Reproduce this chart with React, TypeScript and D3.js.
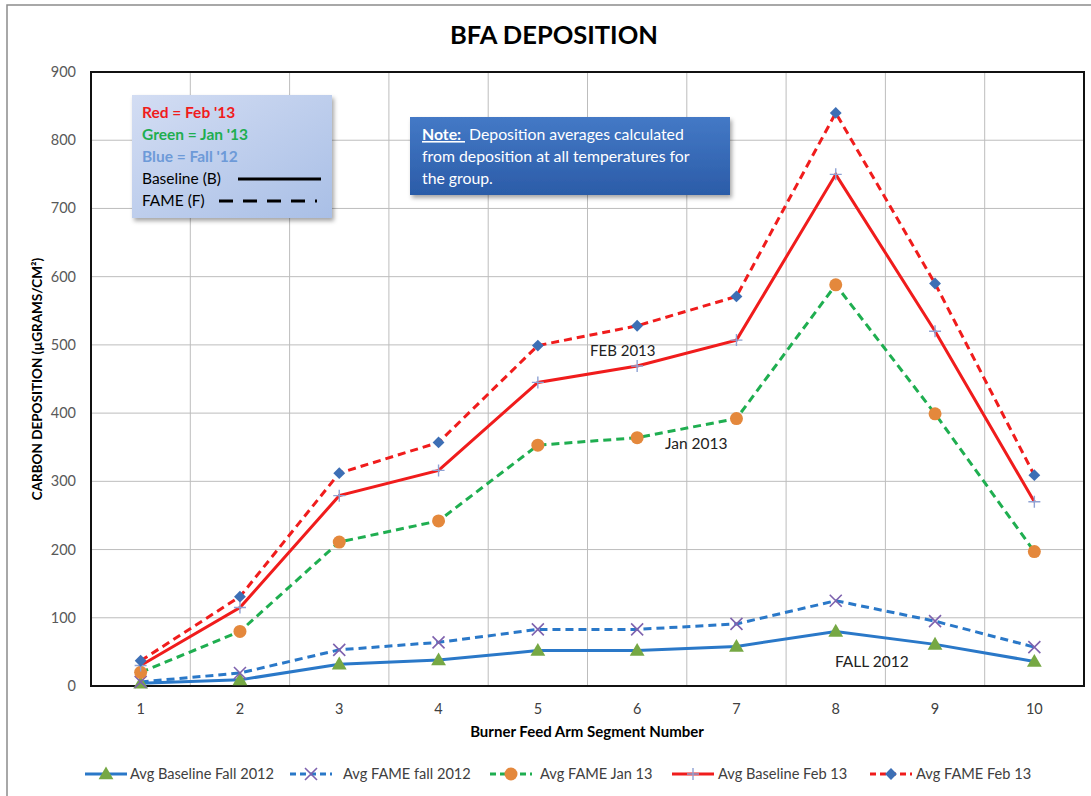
import React from "react";
import * as d3 from "d3";

const categories = [1, 2, 3, 4, 5, 6, 7, 8, 9, 10];
const baselineFall2012 = [4, 9, 32, 38, 52, 52, 58, 80, 61, 36];
const fameFall2012 = [6, 19, 53, 64, 83, 83, 91, 125, 95, 57];
const fameJan13 = [20, 80, 211, 242, 353, 364, 392, 588, 399, 197];
const baselineFeb13 = [30, 115, 279, 316, 445, 469, 507, 750, 520, 270];
const fameFeb13 = [37, 131, 312, 357, 499, 528, 571, 840, 590, 309];
const yTicks = [0, 100, 200, 300, 400, 500, 600, 700, 800, 900];

const W = 1091, H = 796;
const L = 91, R = 1084, T = 72, B = 686;
const FONT = "Lato, 'Open Sans', sans-serif";

type Marker = "triangle" | "x" | "circle" | "plus" | "diamond";
interface Series { name: string; values: number[]; color: string; dash: string | null; marker: Marker; mcolor: string; }

const series: Series[] = [
  { name: "Avg Baseline Fall 2012", values: baselineFall2012, color: "#2a78c8", dash: null, marker: "triangle", mcolor: "#76a844" },
  { name: "Avg FAME fall 2012", values: fameFall2012, color: "#2a78c8", dash: "8,5", marker: "x", mcolor: "#7e62ae" },
  { name: "Avg FAME Jan 13", values: fameJan13, color: "#1fae50", dash: "8,5", marker: "circle", mcolor: "#e4883c" },
  { name: "Avg Baseline Feb 13", values: baselineFeb13, color: "#f01c1c", dash: null, marker: "plus", mcolor: "#8fa2d4" },
  { name: "Avg FAME Feb 13", values: fameFeb13, color: "#f01c1c", dash: "8,5", marker: "diamond", mcolor: "#3d6fb5" },
];

function MarkerShape({ type, x, y, color }: { type: Marker; x: number; y: number; color: string }) {
  if (type === "triangle") {
    const p = d3.symbol(d3.symbolTriangle, 95)();
    return <path d={p || ""} transform={`translate(${x},${y + 1})`} fill={color} />;
  }
  if (type === "circle") return <circle cx={x} cy={y} r={6.5} fill={color} />;
  if (type === "diamond") {
    const p = d3.symbol(d3.symbolSquare, 70)();
    return <path d={p || ""} transform={`translate(${x},${y}) rotate(45)`} fill={color} />;
  }
  if (type === "x") {
    const s = 6;
    return <path d={`M${x - s},${y - s}L${x + s},${y + s}M${x - s},${y + s}L${x + s},${y - s}`} stroke={color} strokeWidth={1.6} />;
  }
  const s = 6;
  return <path d={`M${x - s},${y}L${x + s},${y}M${x},${y - s}L${x},${y + s}`} stroke={color} strokeWidth={1.4} />;
}

export default function App() {
  const x = d3.scaleBand<number>().domain(categories).range([L, R]);
  const y = d3.scaleLinear().domain([0, 900]).range([B, T]);
  const cx = (c: number) => (x(c) || 0) + x.bandwidth() / 2;
  const line = d3.line<number>().x((_, i) => cx(categories[i])).y((v) => y(v));

  const legendItems = [
    { s: series[0], lx: 85, tx: 130 },
    { s: series[1], lx: 290, tx: 343 },
    { s: series[2], lx: 490, tx: 540 },
    { s: series[3], lx: 672, tx: 718 },
    { s: series[4], lx: 870, tx: 916 },
  ];

  return (
    <svg width={W} height={H} style={{ position: "absolute", left: 0, top: 0, background: "#fff" }} fontFamily={FONT}>
      <defs>
        <linearGradient id="lg1" x1="0" y1="0" x2="1" y2="1">
          <stop offset="0" stopColor="#d3ddf3" />
          <stop offset="1" stopColor="#a9bfe6" />
        </linearGradient>
        <linearGradient id="lg2" x1="0" y1="0" x2="0" y2="1">
          <stop offset="0" stopColor="#4479c6" />
          <stop offset="1" stopColor="#2b5ca8" />
        </linearGradient>
        <filter id="sh" x="-10%" y="-10%" width="130%" height="140%">
          <feDropShadow dx="2" dy="3" stdDeviation="2" floodColor="#000" floodOpacity="0.35" />
        </filter>
      </defs>
      <rect x={7} y={5} width={1100} height={800} fill="#fff" stroke="#8c8c8c" strokeWidth={1.5} />

      <text x={554} y={44} textAnchor="middle" fontSize={25.5} fontWeight="bold" fill="#000">BFA DEPOSITION</text>

      {/* gridlines */}
      {yTicks.map((t) => (
        <line key={"h" + t} x1={L} x2={R} y1={y(t)} y2={y(t)} stroke="#bdbdbd" strokeWidth={1} />
      ))}
      {categories.slice(1).map((c) => (
        <line key={"v" + c} x1={x(c)} x2={x(c)} y1={T} y2={B} stroke="#bdbdbd" strokeWidth={1} />
      ))}
      <rect x={L} y={T} width={R - L} height={B - T} fill="none" stroke="#111" strokeWidth={2} />

      {/* y ticks */}
      {yTicks.map((t) => (
        <text key={"yt" + t} x={76} y={y(t) + 5} textAnchor="end" fontSize={14.5} fill="#595959">{t}</text>
      ))}
      {categories.map((c) => (
        <text key={"xt" + c} x={cx(c)} y={714} textAnchor="middle" fontSize={14.5} fill="#404040">{c}</text>
      ))}
      <text transform={`translate(42,${(T + B) / 2}) rotate(-90)`} textAnchor="middle" fontSize={13.5} fontWeight="bold" fill="#000">CARBON DEPOSITION (µGRAMS/CM²)</text>
      <text x={587} y={737} textAnchor="middle" fontSize={15} fontWeight="bold" fill="#000">Burner Feed Arm Segment Number</text>

      {/* series */}
      {series.map((s) => (
        <path key={s.name} d={line(s.values) || ""} fill="none" stroke={s.color} strokeWidth={3} strokeDasharray={s.dash || undefined} />
      ))}
      {series.map((s) =>
        s.values.map((v, i) => (
          <MarkerShape key={s.name + i} type={s.marker} x={cx(categories[i])} y={y(v)} color={s.mcolor} />
        ))
      )}

      {/* annotations */}
      <text x={590} y={356} fontSize={15} fill="#222">FEB 2013</text>
      <text x={665} y={449} fontSize={15.5} fill="#222">Jan 2013</text>
      <text x={835} y={667} fontSize={15.5} fill="#222">FALL 2012</text>

      {/* top-left legend box */}
      <rect x={132} y={95} width={200} height={123} fill="url(#lg1)" filter="url(#sh)" />
      <text x={142} y={118} fontSize={15.5} fontWeight="bold" fill="#f01c1c">Red = Feb '13</text>
      <text x={142} y={140} fontSize={15.5} fontWeight="bold" fill="#1fae50">Green = Jan '13</text>
      <text x={142} y={162} fontSize={15.5} fontWeight="bold" fill="#6d9ad8">Blue = Fall '12</text>
      <text x={142} y={184} fontSize={15.5} fill="#000">Baseline (B)</text>
      <line x1={238} x2={321} y1={179} y2={179} stroke="#000" strokeWidth={3} />
      <text x={142} y={206} fontSize={15.5} fill="#000">FAME (F)</text>
      <line x1={219} x2={317} y1={201} y2={201} stroke="#000" strokeWidth={3} strokeDasharray="14,10" />

      {/* note box */}
      <rect x={410} y={117} width={320} height={78} fill="url(#lg2)" filter="url(#sh)" />
      <text x={422} y={140} fontSize={15.8} fill="#fff">
        <tspan fontWeight="bold" textDecoration="underline">{"Note:\u00a0"}</tspan>
        <tspan>{"\u00a0Deposition averages calculated"}</tspan>
      </text>
      <text x={422} y={162} fontSize={15.8} fill="#fff">from deposition at all temperatures for</text>
      <text x={422} y={184} fontSize={15.8} fill="#fff">the group.</text>

      {/* bottom legend */}
      {legendItems.map(({ s, lx, tx }) => (
        <g key={"lg" + s.name}>
          <line x1={lx} x2={lx + 42} y1={774} y2={774} stroke={s.color} strokeWidth={3} strokeDasharray={s.dash ? "6,4" : undefined} />
          <MarkerShape type={s.marker} x={lx + 21} y={774} color={s.mcolor} />
          <text x={tx} y={779} fontSize={14.6} fill="#404040">{s.name}</text>
        </g>
      ))}
    </svg>
  );
}
